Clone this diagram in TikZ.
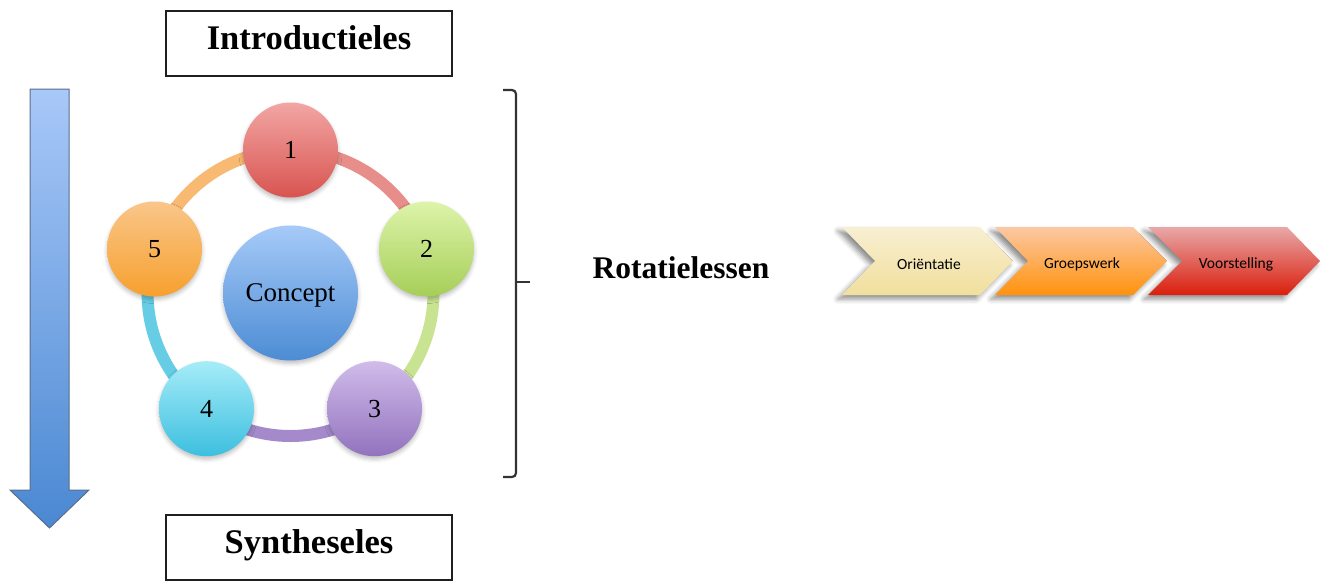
\documentclass[tikz,border=0pt]{standalone}
\usepackage{fontspec}
\setmainfont{Liberation Serif}
\newfontfamily\chevfont{Carlito}
\usetikzlibrary{shadows.blur}
\definecolor{c1t}{HTML}{F2A6A4}\definecolor{c1b}{HTML}{D85450}
\definecolor{c2t}{HTML}{DDF4AA}\definecolor{c2b}{HTML}{A6CE58}
\definecolor{c3t}{HTML}{D0BCEA}\definecolor{c3b}{HTML}{9272BE}
\definecolor{c4t}{HTML}{A6ECF8}\definecolor{c4b}{HTML}{3CBFDF}
\definecolor{c5t}{HTML}{F9C68A}\definecolor{c5b}{HTML}{F7A02E}
\definecolor{cct}{HTML}{A6CAF8}\definecolor{ccb}{HTML}{4C8CD4}
\definecolor{r1}{HTML}{E88E8A}\definecolor{r2}{HTML}{C8E492}
\definecolor{r3}{HTML}{A48ACA}\definecolor{r4}{HTML}{66CDE4}
\definecolor{r5}{HTML}{F8BA72}
\definecolor{art}{HTML}{A8C8F8}\definecolor{arb}{HTML}{4A88D2}
\definecolor{are}{HTML}{5A6E88}
\definecolor{v1t}{HTML}{F8EFD2}\definecolor{v1b}{HTML}{F1DF9C}
\definecolor{v2t}{HTML}{FCC8A4}\definecolor{v2b}{HTML}{FF920C}
\definecolor{v3t}{HTML}{E8A8A8}\definecolor{v3b}{HTML}{DA1E0C}
\begin{document}
\begin{tikzpicture}[x=1pt,y=-1pt,
  box/.style={draw=black!88, line width=2pt, minimum width=286pt, minimum height=65pt,
    text height=21pt, text depth=10pt, font=\fontsize{34.5}{40}\selectfont\bfseries},
  num/.style={circle, minimum size=95pt, inner sep=0pt, font=\fontsize{26}{30}\selectfont,
    blur shadow={shadow xshift=0pt, shadow yshift=-3pt, shadow blur radius=4pt, shadow opacity=25}},
  ring/.style={line width=12pt},
  bracket/.style={draw=black!80, line width=2.2pt, rounded corners=4pt},
  chev/.style={blur shadow={shadow xshift=-4pt, shadow yshift=-4pt, shadow blur radius=5pt, shadow opacity=45}},
  chevtext/.style={font=\chevfont\fontsize{15.5}{18}\selectfont, text depth=0pt}]
\useasboundingbox (0,0) rectangle (1325,581);

% boxes
\node[box] (intro) at (309,43.5) {Introductieles};
\node[box] (synth) at (309,547.5) {Syntheseles};

% blue arrow
\shade[draw=are, line width=1pt, top color=art, bottom color=arb]
  (30,89) -- (69,89) -- (69,490) -- (89,490) -- (49.5,528) -- (10,490) -- (30,490) -- cycle;

% ring positions
\coordinate (p1) at (290.5,150);
\coordinate (p2) at (426.5,249);
\coordinate (p3) at (374.5,408.7);
\coordinate (p4) at (206.5,408.7);
\coordinate (p5) at (154.5,249);
\draw[ring, draw=r1] (p1) arc[start angle=-90, end angle=-18, radius=143];
\draw[ring, draw=r2] (p2) arc[start angle=-18, end angle=54, radius=143];
\draw[ring, draw=r3] (p3) arc[start angle=54, end angle=126, radius=143];
\draw[ring, draw=r4] (p4) arc[start angle=126, end angle=198, radius=143];
\draw[ring, draw=r5] (p5) arc[start angle=198, end angle=270, radius=143];

% circles
\node[num, top color=c1t, bottom color=c1b] (c1) at (p1) {1};
\node[num, top color=c2t, bottom color=c2b] (c2) at (p2) {2};
\node[num, top color=c3t, bottom color=c3b] (c3) at (p3) {3};
\node[num, top color=c4t, bottom color=c4b] (c4) at (p4) {4};
\node[num, top color=c5t, bottom color=c5b] (c5) at (p5) {5};
\node[circle, minimum size=135pt, inner sep=0pt, top color=cct, bottom color=ccb,
  font=\fontsize{27}{30}\selectfont, text depth=0pt,
  blur shadow={shadow xshift=0pt, shadow yshift=-3pt, shadow blur radius=4pt, shadow opacity=25}]
  (concept) at (290.5,293) {Concept};

% bracket
\draw[bracket] (503,90) -- (516,90) -- (516,477) -- (503,477);
\draw[bracket, rounded corners=0pt] (516,282) -- (530,282);
\node[anchor=base, font=\fontsize{31.5}{36}\selectfont\bfseries] (rot) at (681,278) {Rotatielessen};

% chevrons
\path[chev, top color=v1t, bottom color=v1b]
  (842,227) -- (980,227) -- (1013,261) -- (980,295) -- (842,295) -- (875,261) -- cycle;
\path[chev, top color=v2t, bottom color=v2b]
  (995,227) -- (1133,227) -- (1167,261) -- (1133,295) -- (995,295) -- (1028,261) -- cycle;
\path[chev, top color=v3t, bottom color=v3b]
  (1148,227) -- (1287,227) -- (1320,261) -- (1287,295) -- (1148,295) -- (1182,261) -- cycle;
\node[chevtext] (ori) at (929,264.5) {Oriëntatie};
\node[chevtext] (groep) at (1082,263) {Groepswerk};
\node[chevtext] (voor) at (1236,263) {Voorstelling};
\end{tikzpicture}
\end{document}
